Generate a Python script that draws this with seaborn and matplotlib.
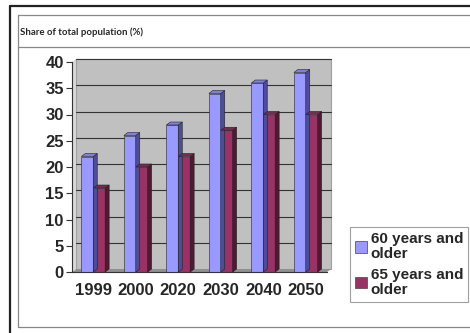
import matplotlib
matplotlib.use("Agg")
import matplotlib.pyplot as plt
import matplotlib.transforms as mtransforms
from matplotlib.patches import Polygon, Rectangle, Patch
from matplotlib.lines import Line2D
import seaborn as sns
import pandas as pd

years = ['1999', '2000', '2020', '2030', '2040', '2050']
over_60 = [22, 26, 28, 34, 36, 38]
over_65 = [16, 20, 22, 27, 30, 30]
series_names = ['60 years and\nolder', '65 years and\nolder']
title = 'Share of total population (%)'

face_colors = ['#9999FF', '#993366']
side_colors = ['#4D4D99', '#4D1A33']
top_colors = ['#7F7FE0', '#7A2952']

df = pd.DataFrame({
    'year': years * 2,
    'value': over_60 + over_65,
    'series': [series_names[0]] * len(years) + [series_names[1]] * len(years),
})

sns.set_style('white')
plt.rcParams['font.family'] = ['Liberation Sans', 'DejaVu Sans']

W, H = 470, 333
fig = plt.figure(figsize=(W / 100, H / 100), dpi=100)

def px(x, y):
    return x / W, 1 - y / H

# table borders around the chart
def fig_line(x0, y0, x1, y1, color, lw):
    a, b = px(x0, y0)
    c, d = px(x1, y1)
    fig.add_artist(Line2D([a, c], [b, d], color=color, lw=lw, transform=fig.transFigure))

fig_line(10, 6, 470, 6, '#222222', 1.6)
fig_line(10, 6, 10, 333, '#222222', 1.6)
fig_line(18, 15, 470, 15, '#888888', 0.9)
fig_line(18, 47, 470, 47, '#888888', 0.9)
fig_line(18, 15, 18, 327, '#888888', 0.9)
fig_line(18, 327, 470, 327, '#888888', 0.9)

fig.text(*px(20, 32), title, fontsize=6.9, fontweight='bold', family=['Lato', 'DejaVu Sans'],
         va='center', ha='left')

l, b = px(72, 272)
r, t = px(327, 62)
ax = fig.add_axes([l, b, r - l, t - b])
ax.set_facecolor('none')

dx, dy = 4, 3
back = mtransforms.offset_copy(ax.transData, fig=fig, x=dx, y=dy, units='dots')

sns.barplot(data=df, x='year', y='value', hue='series', palette=face_colors,
            width=0.56, saturation=1, edgecolor='#222222', linewidth=0.4,
            ax=ax, legend=False, zorder=3)

ax.set_xlim(-0.5, len(years) - 0.5)
ax.set_ylim(0, 40)

# back wall, floor and grid
ax.add_patch(Rectangle((-0.5, 0), len(years), 40, transform=back, facecolor='#C0C0C0',
                       edgecolor='#A0A0A0', lw=0.8, clip_on=False, zorder=0))
for v in range(5, 45, 5):
    ax.plot([-0.5, len(years) - 0.5], [v, v], color='#333333', lw=0.8,
            transform=back, clip_on=False, zorder=1)

fig.canvas.draw()
x0, y0 = ax.transData.transform((-0.5, 0))
x1, _ = ax.transData.transform((len(years) - 0.5, 0))
_, ytop = ax.transData.transform((-0.5, 40))
ax.add_patch(Polygon([(x0, y0), (x1, y0), (x1 + dx, y0 + dy), (x0 + dx, y0 + dy)],
                     closed=True, transform=None, facecolor='#909090', edgecolor='none',
                     clip_on=False, zorder=1))
ax.add_patch(Polygon([(x0, y0), (x0 + dx, y0 + dy), (x0 + dx, ytop + dy), (x0, ytop)],
                     closed=True, transform=None, facecolor='#D8D8D8', edgecolor='none',
                     clip_on=False, zorder=1))

# 3d faces of the bars
n = len(years)
for i, bar in enumerate(ax.patches[:2 * n]):
    k = i // n
    bx0, by0 = ax.transData.transform((bar.get_x(), 0))
    bx1, by1 = ax.transData.transform((bar.get_x() + bar.get_width(), bar.get_height()))
    ax.add_patch(Polygon([(bx1, by0), (bx1 + dx, by0 + dy), (bx1 + dx, by1 + dy), (bx1, by1)],
                         closed=True, transform=None, facecolor=side_colors[k],
                         edgecolor='#222222', lw=0.4, clip_on=False, zorder=4))
    ax.add_patch(Polygon([(bx0, by1), (bx1, by1), (bx1 + dx, by1 + dy), (bx0 + dx, by1 + dy)],
                         closed=True, transform=None, facecolor=top_colors[k],
                         edgecolor='#222222', lw=0.4, clip_on=False, zorder=4))

for s in ['top', 'right']:
    ax.spines[s].set_visible(False)
for s in ['left', 'bottom']:
    ax.spines[s].set_color('#333333')
    ax.spines[s].set_linewidth(0.8)
    ax.spines[s].set_zorder(5)

ax.set_yticks(range(0, 45, 5))
ax.set_xticks([i - 0.5 for i in range(n + 1)], minor=True)
ax.tick_params(axis='x', which='major', length=0, pad=8)
ax.tick_params(axis='x', which='minor', length=4, width=0.8, color='#333333', direction='out')
ax.tick_params(axis='y', length=4, width=0.8, color='#333333', direction='out', pad=2)
ax.tick_params(axis='both', which='major', left=True)
ax.set_xlabel('')
ax.set_ylabel('')
for lab in ax.get_xticklabels() + ax.get_yticklabels():
    lab.set_fontsize(12)
    lab.set_fontweight('bold')

handles = [Patch(facecolor=c, edgecolor='#444444', lw=0.5) for c in face_colors]
lx, ly = px(350, 227)
leg = fig.legend(handles, series_names, loc='upper left', bbox_to_anchor=(lx, ly),
                 bbox_transform=fig.transFigure, frameon=True, fancybox=False,
                 prop={'size': 11, 'weight': 'bold'}, handlelength=0.75, handleheight=0.75,
                 handletextpad=0.25, borderpad=0.35, labelspacing=0.4, borderaxespad=0)
leg.get_frame().set_edgecolor('#888888')
leg.get_frame().set_linewidth(0.8)
for txt in leg.get_texts():
    txt.set_linespacing(1.1)

fig.savefig('out.png', dpi=100)
